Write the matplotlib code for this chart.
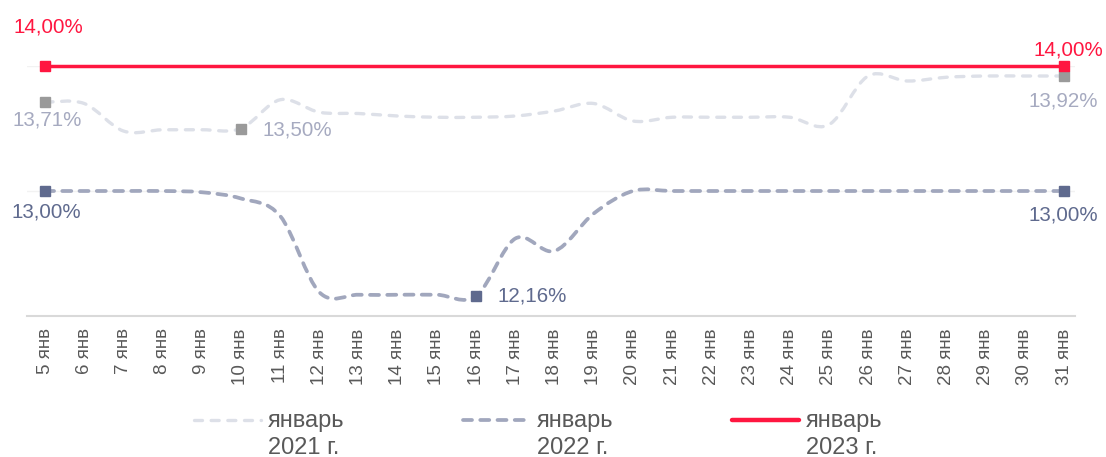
import numpy as np
import matplotlib
matplotlib.use('Agg')
import matplotlib.pyplot as plt
from matplotlib.path import Path
from matplotlib.patches import PathPatch
from matplotlib.lines import Line2D

plt.rcParams['font.family'] = ['Liberation Sans', 'DejaVu Sans']

# Данные
days = ['5 янв', '6 янв', '7 янв', '8 янв', '9 янв', '10 янв', '11 янв', '12 янв', '13 янв',
        '14 янв', '15 янв', '16 янв', '17 янв', '18 янв', '19 янв', '20 янв', '21 янв', '22 янв',
        '23 янв', '24 янв', '25 янв', '26 янв', '27 янв', '28 янв', '29 янв', '30 янв', '31 янв']
rate_2021 = [13.71, 13.70, 13.48, 13.49, 13.49, 13.50, 13.73, 13.63, 13.62, 13.60, 13.59, 13.59,
             13.60, 13.64, 13.70, 13.56, 13.59, 13.59, 13.59, 13.59, 13.53, 13.92, 13.88, 13.91,
             13.92, 13.92, 13.92]
rate_2022 = [13.00, 13.00, 13.00, 13.00, 12.99, 12.94, 12.80, 12.19, 12.17, 12.17, 12.17, 12.16,
             12.62, 12.52, 12.82, 13.00, 13.00, 13.00, 13.00, 13.00, 13.00, 13.00, 13.00, 13.00,
             13.00, 13.00, 13.00]
rate_2023 = [14.00, 14.00, 14.00, 14.00, 14.00, 14.00, 14.00, 14.00, 14.00, 14.00, 14.00, 14.00,
             14.00, 14.00, 14.00, 14.00, 14.00, 14.00, 14.00, 14.00, 14.00, 14.00, 14.00, 14.00,
             14.00, 14.00, 14.00]
legend_names = ['январь\n2021 г.', 'январь\n2022 г.', 'январь\n2023 г.']
labelled_2021 = [0, 5, 26]
labelled_2022 = [0, 11, 26]
labelled_2023 = [0, 26]

W, H = 1106, 457
fig = plt.figure(figsize=(W / 100, H / 100), dpi=100)
ax = fig.add_axes([27 / W, (H - 316) / H, (1075 - 27) / W, (316 - 66) / H])
ax.set_xlim(-0.46, 26.28)
ax.set_ylim(12, 14)


def smooth_path(xs, ys):
    """Кривая Безье через точки (сглаживание как в Excel)"""
    pts = np.column_stack([xs, ys]).astype(float)
    n = len(pts)
    verts = [pts[0]]
    codes = [Path.MOVETO]
    for i in range(n - 1):
        p0 = pts[i - 1] if i > 0 else pts[i]
        p1 = pts[i]
        p2 = pts[i + 1]
        p3 = pts[i + 2] if i + 2 < n else pts[i + 1]
        c1 = p1 + (p2 - p0) / 6
        c2 = p2 - (p3 - p1) / 6
        verts += [c1, c2, p2]
        codes += [Path.CURVE4] * 3
    return Path(verts, codes)


x = np.arange(len(days))

c21_line, c21_mark, c21_text = '#DDE0E8', '#9A9A9A', '#A6AAC0'
c22_line, c22_mark, c22_text = '#A1A7BD', '#5F6A8E', '#5F6A8E'
c23 = '#FF1640'

p21 = PathPatch(smooth_path(x, rate_2021), fill=False, edgecolor=c21_line, lw=2.4,
                linestyle=(0, (2.4, 2.6)), capstyle='round', clip_on=False, zorder=3)
p22 = PathPatch(smooth_path(x, rate_2022), fill=False, edgecolor=c22_line, lw=2.7,
                linestyle=(0, (2.4, 2.2)), capstyle='round', clip_on=False, zorder=3)
ax.add_patch(p21)
ax.add_patch(p22)
ax.plot(x, rate_2023, color=c23, lw=2.5, zorder=4, clip_on=False)

r21 = np.array(rate_2021)
r22 = np.array(rate_2022)
r23 = np.array(rate_2023)
ax.plot(x[labelled_2021], r21[labelled_2021], 's', ms=7.8, color=c21_mark, zorder=5, clip_on=False)
ax.plot(x[labelled_2022], r22[labelled_2022], 's', ms=7.8, color=c22_mark, zorder=5, clip_on=False)
ax.plot(x[labelled_2023], r23[labelled_2023], 's', ms=7.8, color=c23, zorder=6, clip_on=False)


def fmt(v):
    return f'{v:.2f}'.replace('.', ',') + '%'


def lab(i, vals, color, dx, dy, ha='center'):
    ax.annotate(fmt(vals[i]), (x[i], vals[i]), xytext=(dx, dy), textcoords='offset pixels',
                ha=ha, va='center', color=color, fontsize=14.8, annotation_clip=False)


lab(0, r23, c23, 3, 39)
lab(26, r23, c23, 4, 16)
lab(0, r21, c21_text, 2, -18)
lab(5, r21, c21_text, 22, -1, ha='left')
lab(26, r21, c21_text, -1, -25)
lab(0, r22, c22_text, 1, -21)
lab(11, r22, c22_text, 21, 0, ha='left')
lab(26, r22, c22_text, -1, -24)

# Оси и сетка
ax.set_yticks([13, 14])
ax.grid(axis='y', color='#F2F2F2', lw=1)
ax.set_axisbelow(True)
for s in ['top', 'right', 'left']:
    ax.spines[s].set_visible(False)
ax.spines['bottom'].set_color('#D9D9D9')
ax.spines['bottom'].set_linewidth(1.5)
ax.tick_params(axis='y', left=False, labelleft=False)
ax.tick_params(axis='x', length=0, pad=9)
ax.set_xticks(x)
ax.set_xticklabels(days, rotation=90, fontsize=13.5, color='#595959', va='top', ha='center')

# Легенда
leg_styles = [
    dict(color=c21_line, lw=2.4, linestyle=(0, (2.4, 2.6)), dash_capstyle='round'),
    dict(color=c22_line, lw=2.7, linestyle=(0, (2.4, 2.2)), dash_capstyle='round'),
    dict(color=c23, lw=3.2, solid_capstyle='round'),
]
for k in range(3):
    x0 = 194 + 269 * k
    fig.add_artist(Line2D([x0 / W, (x0 + 67) / W], [(H - 420) / H] * 2,
                          transform=fig.transFigure, **leg_styles[k]))
    fig.text((x0 + 74) / W, (H - 410) / H, legend_names[k], ha='left', va='top',
             fontsize=17, color='#595959', linespacing=1.3)

fig.savefig('out.png', dpi=100)
